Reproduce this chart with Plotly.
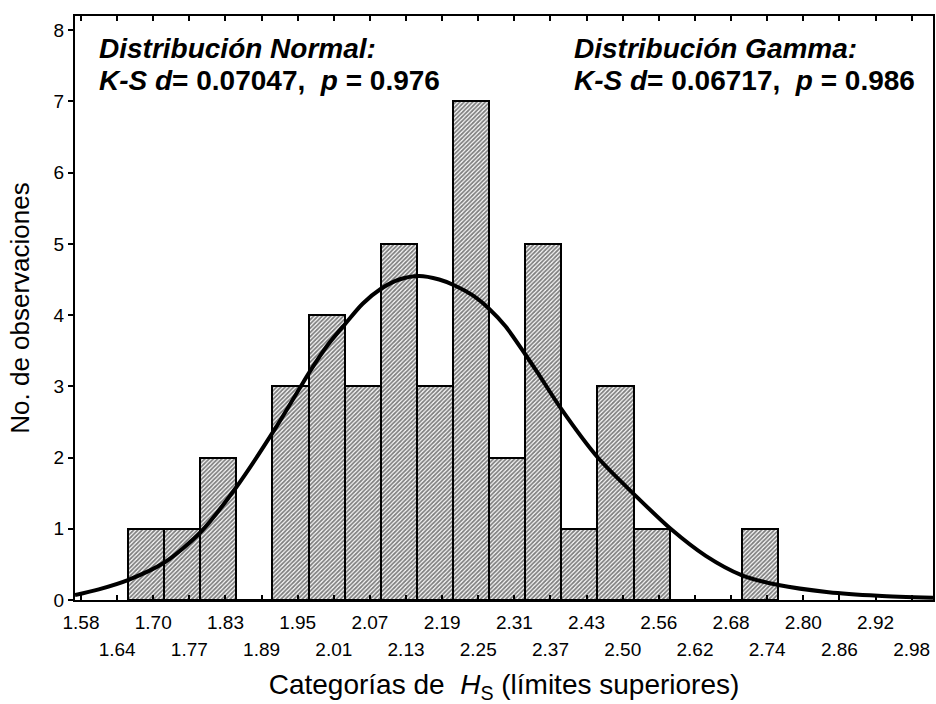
import numpy as np
import plotly.graph_objects as go

# Class limits shown under the axis (upper limits of Hs classes)
tick_labels = ["1.58", "1.64", "1.70", "1.77", "1.83", "1.89", "1.95", "2.01",
               "2.07", "2.13", "2.19", "2.25", "2.31", "2.37", "2.43", "2.50",
               "2.56", "2.62", "2.68", "2.74", "2.80", "2.86", "2.92", "2.98"]

# Histogram classes: midpoints and observed frequencies
class_mid = [1.6896, 1.7504, 1.8113, 1.8722, 1.9331, 1.9939, 2.0548, 2.1157,
             2.1765, 2.2374, 2.2983, 2.3591, 2.4200, 2.4809, 2.5417, 2.6026,
             2.6635, 2.7243]
counts = [1, 1, 2, 0, 3, 4, 3, 5, 3, 7, 2, 5, 1, 3, 1, 0, 0, 1]

# Fitted density, expressed in expected counts per class
curve_x = [1.5699, 1.6100, 1.6590, 1.7212, 1.7818, 1.8423, 1.9091, 1.9483,
           1.9651, 1.9958, 2.0256, 2.0547, 2.0856, 2.1164, 2.1500, 2.1837,
           2.2089, 2.2397, 2.2677, 2.2958, 2.3295, 2.3490, 2.3888, 2.4510,
           2.5140, 2.5738, 2.6330, 2.6932, 2.7554, 2.8400, 2.9235, 3.0160]
curve_y = [0.07, 0.15, 0.28, 0.53, 0.955, 1.59, 2.43, 2.97,
           3.20, 3.58, 3.88, 4.16, 4.37, 4.50, 4.55, 4.50,
           4.42, 4.28, 4.09, 3.84, 3.44, 3.20, 2.69, 2.00,
           1.47, 1.00, 0.62, 0.35, 0.21, 0.11, 0.06, 0.03]

# Goodness-of-fit notes (heading, K-S d, p)
fit_notes = [
    ("Distribución Normal:", "0.07047", "0.976"),
    ("Distribución Gamma:", "0.06717", "0.986"),
]

tick_vals = np.linspace(1.58, 2.98, len(tick_labels))
class_width = tick_vals[1] - tick_vals[0]
x_range = [1.5699, 3.016]

FONT = "Liberation Sans, Arial, sans-serif"
TICK_SIZE = 19
NOTE_SIZE = 28

fig = go.Figure()

fig.add_trace(go.Bar(
    x=class_mid, y=counts, width=class_width,
    marker=dict(
        color="white",
        line=dict(color="black", width=2),
        pattern=dict(shape="/", fgcolor="black", bgcolor="white",
                     size=3, solidity=0.6),
    ),
    showlegend=False,
))

fig.add_trace(go.Scatter(
    x=curve_x, y=curve_y, mode="lines",
    line=dict(color="black", width=4, shape="spline", smoothing=0.8),
    showlegend=False,
))

# Second row of staggered class-limit labels lives on an overlaid axis
fig.add_trace(go.Scatter(x=[x_range[0]], y=[0], xaxis="x2", mode="markers",
                         marker=dict(opacity=0), showlegend=False,
                         hoverinfo="skip"))

even_vals = [v for i, v in enumerate(tick_vals) if i % 2 == 0]
even_text = [t for i, t in enumerate(tick_labels) if i % 2 == 0]
odd_vals = [v for i, v in enumerate(tick_vals) if i % 2 == 1]
odd_text = [t for i, t in enumerate(tick_labels) if i % 2 == 1]

tick_style = dict(ticks="inside", ticklen=5, tickwidth=1.5, tickcolor="black",
                  showline=True, linewidth=2, linecolor="black", mirror="ticks",
                  showgrid=False, zeroline=False,
                  tickfont=dict(size=TICK_SIZE, family=FONT))

fig.update_layout(
    width=936, height=704,
    margin=dict(l=75, r=1, t=16, b=104),
    plot_bgcolor="white", paper_bgcolor="white",
    font=dict(family=FONT, color="black"),
    bargap=0,
    xaxis=dict(
        range=x_range, tickmode="array", tickvals=even_vals, ticktext=even_text,
        ticklabelstandoff=4,
        title=dict(text="Categorías de \u00a0<i>H</i><sub>S</sub> (límites superiores)",
                   font=dict(size=28, family=FONT), standoff=45),
        **tick_style,
    ),
    xaxis2=dict(
        range=x_range, overlaying="x", anchor="y", side="bottom",
        tickmode="array", tickvals=odd_vals, ticktext=odd_text,
        ticklabelstandoff=31,
        **tick_style,
    ),
    yaxis=dict(
        range=[0, 8.2], tickmode="array", tickvals=list(range(0, 9)),
        ticks="outside", ticklen=5, tickwidth=1.5, tickcolor="black",
        showline=True, linewidth=2, linecolor="black", mirror=True,
        showgrid=False, zeroline=False,
        tickfont=dict(size=TICK_SIZE, family=FONT),
        title=dict(text="No. de observaciones",
                   font=dict(size=26, family=FONT), standoff=17),
    ),
)

for x_pos, (heading, d_val, p_val) in zip([0.0256, 0.579], fit_notes):
    fig.add_annotation(
        xref="paper", yref="paper", x=x_pos, y=0.9435,
        xanchor="left", yanchor="middle", showarrow=False,
        text=f"<b><i>{heading}</i></b>",
        font=dict(size=NOTE_SIZE, family=FONT),
    )
    fig.add_annotation(
        xref="paper", yref="paper", x=x_pos, y=0.8904,
        xanchor="left", yanchor="middle", showarrow=False,
        text=f"<b><i>K-S d</i>= {d_val}, \u00a0<i>p</i> = {p_val}</b>",
        font=dict(size=NOTE_SIZE, family=FONT),
    )

fig.write_html("out.html")
